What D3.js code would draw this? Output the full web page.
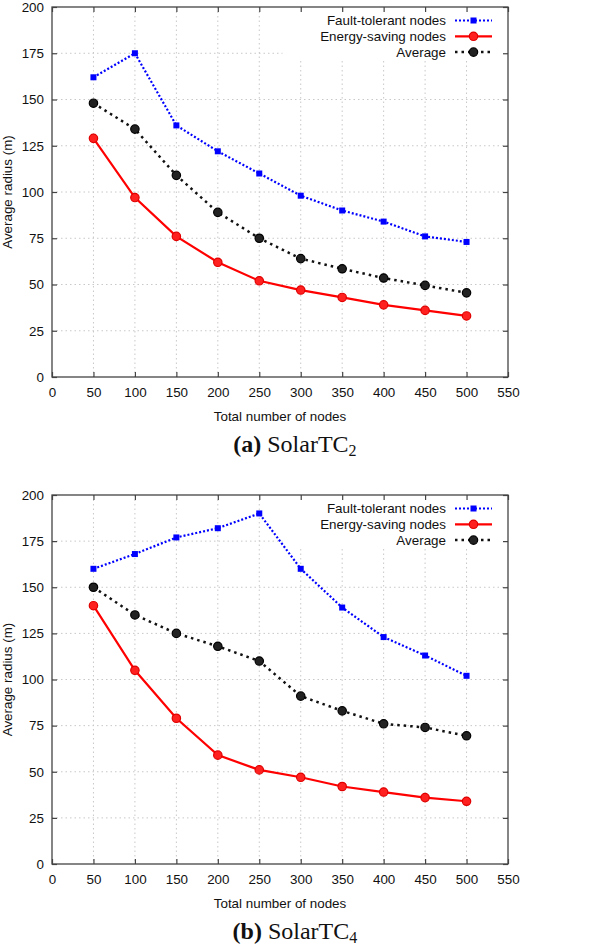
<!DOCTYPE html>
<html><head><meta charset="utf-8">
<script src="https://cdn.jsdelivr.net/npm/d3@7"></script>
<style>body{margin:0;background:#fff}svg{display:block}</style>
</head><body>
<svg id="c" width="600" height="948"></svg>
<script>
const nodes = [50,100,150,200,250,300,350,400,450,500];
const xTicks = [0,50,100,150,200,250,300,350,400,450,500,550];
const yTicks = [0,25,50,75,100,125,150,175,200];
const faultA = [162,175,136,122,110,98,90,84,76,73];
const energyA = [129,97,76,62,52,47,43,39,36,33];
const avgA = [148,134,109,89,75,64,58.5,53.5,49.5,45.5];
const faultB = [160,168,177,182,190,160,139,123,113,102];
const energyB = [140,105,79,59,51,47,42,39,36,34];
const avgB = [150,135,125,118,110,91,83,76,74,69.5];
const seriesNames = ["Fault-tolerant nodes","Energy-saving nodes","Average"];
const xTitle = "Total number of nodes";
const yTitle = "Average radius (m)";

const svg = d3.select("#c");
const font = "Liberation Sans, Arial, sans-serif";
const fs = 13.4;

function panel(top, bottom, fault, energy, avg, letter, sub, legendBottom){
  const left = 52, right = 508;
  const x = d3.scaleLinear().domain([0,550]).range([left,right]);
  const y = d3.scaleLinear().domain([0,200]).range([bottom,top]);
  const g = svg.append("g");
  g.selectAll(".gx").data(xTicks.slice(1,-1)).join("line")
    .attr("x1",d=>x(d)).attr("x2",d=>x(d)).attr("y1",top).attr("y2",bottom)
    .attr("stroke","#c8c8c8").attr("stroke-width",1).attr("stroke-dasharray","1.5,3");
  g.selectAll(".gy").data(yTicks.slice(1,-1)).join("line")
    .attr("x1",left).attr("x2",right).attr("y1",d=>y(d)).attr("y2",d=>y(d))
    .attr("stroke","#c8c8c8").attr("stroke-width",1).attr("stroke-dasharray","1.5,3");
  g.append("rect").attr("x",x(278)).attr("y",top).attr("width",right-x(278)).attr("height",legendBottom-top).attr("fill","#fff");
  const ax = (axis, tr) => g.append("g").attr("transform",tr).call(axis)
     .call(s=>{s.select(".domain").remove(); s.selectAll("line").attr("stroke","#444").attr("stroke-width",1.2);});
  const bx = ax(d3.axisBottom(x).tickValues(xTicks).tickSize(-5).tickPadding(10).tickFormat(d3.format("d")), `translate(0,${bottom})`);
  bx.selectAll("text").attr("font-family",font).attr("font-size",fs).attr("fill","#111");
  ax(d3.axisTop(x).tickValues(xTicks).tickSize(-5).tickFormat(""), `translate(0,${top})`);
  const ly = ax(d3.axisLeft(y).tickValues(yTicks).tickSize(-5).tickPadding(8).tickFormat(d3.format("d")), `translate(${left},0)`);
  ly.selectAll("text").attr("font-family",font).attr("font-size",fs).attr("fill","#111");
  ax(d3.axisRight(y).tickValues(yTicks).tickSize(-5).tickFormat(""), `translate(${right},0)`);
  g.append("rect").attr("x",left).attr("y",top).attr("width",right-left).attr("height",bottom-top)
    .attr("fill","none").attr("stroke","#444").attr("stroke-width",1.3);
  g.append("text").attr("x",(left+right)/2).attr("y",bottom+44).attr("text-anchor","middle")
    .attr("font-family",font).attr("font-size",fs).attr("fill","#111").text(xTitle);
  g.append("text").attr("transform",`translate(12,${(top+bottom)/2}) rotate(-90)`).attr("text-anchor","middle")
    .attr("font-family",font).attr("font-size",fs).attr("fill","#111").text(yTitle);
  const cap = g.append("text").attr("x",x(293)).attr("y",bottom+75).attr("text-anchor","middle")
    .attr("font-family","Liberation Serif, Times New Roman, serif").attr("font-size",24).attr("fill","#111");
  cap.append("tspan").attr("font-weight","bold").text(`(${letter})`);
  cap.append("tspan").text(" SolarTC");
  cap.append("tspan").attr("font-size",16).attr("dy",4).text(sub);

  const line = d3.line().x((d,i)=>x(nodes[i])).y(d=>y(d));
  const styles = [
    {data:fault, color:"#0000ff", dash:"2,2", w:2.2, marker:"square"},
    {data:energy, color:"#ff0000", dash:null, w:2.2, marker:"circle"},
    {data:avg, color:"#111", dash:"2.5,4", w:2.5, marker:"circle"}
  ];
  [0,2,1].forEach(k=>{
    const s = styles[k];
    g.append("path").datum(s.data).attr("d",line).attr("fill","none")
      .attr("stroke",s.color).attr("stroke-width",s.w).attr("stroke-dasharray",s.dash);
    drawMarkers(g, s, s.data.map((d,i)=>[x(nodes[i]),y(d)]));
  });
  const lx = 446, sx0 = 455, sx1 = 492;
  seriesNames.forEach((n,k)=>{
    const s = styles[k];
    const yy = top + 13.5 + k*15.8;
    g.append("text").attr("x",lx).attr("y",yy+4.8).attr("text-anchor","end")
      .attr("font-family",font).attr("font-size",fs).attr("fill","#111").text(n);
    g.append("line").attr("x1",sx0).attr("x2",sx1).attr("y1",yy).attr("y2",yy)
      .attr("stroke",s.color).attr("stroke-width",s.w).attr("stroke-dasharray",s.dash);
    drawMarkers(g, s, [[(sx0+sx1)/2, yy]]);
  });
}
function drawMarkers(g, s, pts){
  if(s.marker==="square"){
    g.selectAll(null).data(pts).join("rect").attr("x",p=>p[0]-3).attr("y",p=>p[1]-3)
      .attr("width",6).attr("height",6).attr("fill",s.color);
  } else {
    g.selectAll(null).data(pts).join("circle").attr("cx",p=>p[0]).attr("cy",p=>p[1]).attr("r",4.2)
      .attr("fill",s.color==="#111"?"#222":"#ff2020").attr("stroke",s.color==="#111"?"#000":"#e00000").attr("stroke-width",1.2);
  }
}
panel(7, 377, faultA, energyA, avgA, "a", "2", 60);
panel(495, 864, faultB, energyB, avgB, "b", "4", 548);
</script>
</body></html>
